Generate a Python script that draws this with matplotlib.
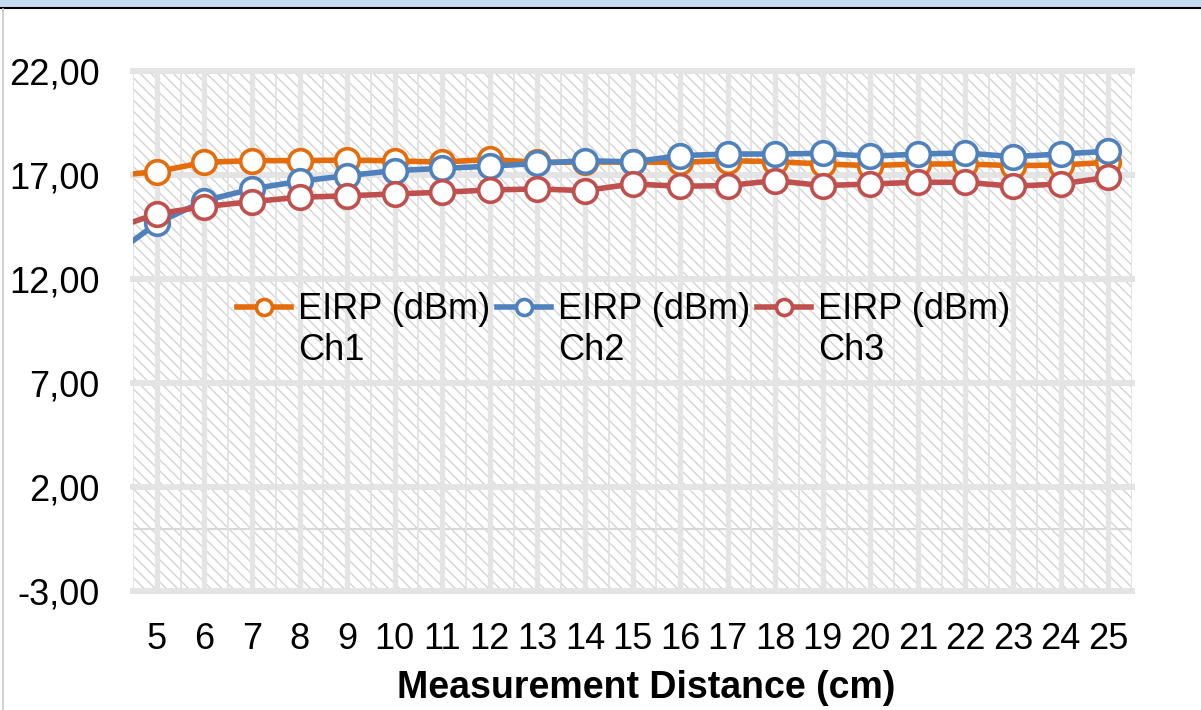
import numpy as np
import matplotlib
matplotlib.use("Agg")
import matplotlib.pyplot as plt
from matplotlib.legend_handler import HandlerLine2D
from matplotlib.patches import Rectangle
from matplotlib.lines import Line2D

# ---- data ----
distance = [4, 5, 6, 7, 8, 9, 10, 11, 12, 13, 14, 15, 16, 17, 18, 19, 20, 21, 22, 23, 24, 25]
ch1 = [16.95, 17.16, 17.61, 17.69, 17.69, 17.72, 17.68, 17.62, 17.75, 17.61, 17.62, 17.62,
       17.61, 17.69, 17.64, 17.53, 17.45, 17.53, 17.53, 17.45, 17.48, 17.61]
ch2 = [13.00, 14.68, 15.76, 16.33, 16.70, 16.97, 17.21, 17.32, 17.42, 17.56, 17.69, 17.63,
       17.93, 18.01, 18.01, 18.04, 17.90, 18.01, 18.06, 17.88, 18.01, 18.14]
ch3 = [14.36, 15.13, 15.48, 15.72, 15.93, 16.00, 16.09, 16.17, 16.28, 16.33, 16.25, 16.57,
       16.46, 16.49, 16.73, 16.49, 16.57, 16.65, 16.65, 16.46, 16.57, 16.89]
series_labels = ["EIRP (dBm)\nCh1", "EIRP (dBm)\nCh2", "EIRP (dBm)\nCh3"]
series_colors = ["#E46C0A", "#4F81BD", "#C0504D"]
x_ticks = [5, 6, 7, 8, 9, 10, 11, 12, 13, 14, 15, 16, 17, 18, 19, 20, 21, 22, 23, 24, 25]
x_tick_labels = ["5", "6", "7", "8", "9", "10", "11", "12", "13", "14", "15", "16", "17",
                 "18", "19", "20", "21", "22", "23", "24", "25"]
y_ticks = [-3, 2, 7, 12, 17, 22]
y_tick_labels = ["-3,00", "2,00", "7,00", "12,00", "17,00", "22,00"]
x_label = "Measurement Distance (cm)"

plt.rcParams['font.family'] = ['Liberation Sans', 'DejaVu Sans']
FS = 26

W, H = 1201, 710
fig = plt.figure(figsize=(W / 100, H / 100), dpi=100)
fig.patch.set_facecolor("white")

# window-like decorations
fig.add_artist(Rectangle((0, 1 - 7 / H), 1, 7 / H, transform=fig.transFigure,
                         facecolor="#C6D9F1", edgecolor="none"))
fig.add_artist(Line2D([0, 1], [1 - 8 / H, 1 - 8 / H], transform=fig.transFigure,
                      color="black", lw=1.5))
fig.add_artist(Line2D([2.5 / W, 2.5 / W], [0, 1 - 9 / H], transform=fig.transFigure,
                      color="#c8c8c8", lw=1.2))

ax = fig.add_axes([133 / W, 1 - 591 / H, 999 / W, 520 / H])
ax.set_xlim(4.5, 25.5)
ax.set_ylim(-3, 22)
ax.patch.set_visible(False)
for s in ax.spines.values():
    s.set_visible(False)

# hatched plot area
ax.add_patch(Rectangle((0, 0), 1, 1, transform=ax.transAxes, facecolor="white",
                       edgecolor="#d4d4d4", hatch="\\\\\\", linewidth=0, zorder=0))

# gridlines
for y in y_ticks:
    ax.axhline(y, color="#e4e4e4", lw=4.3, zorder=1, clip_on=False)
ax.axhline(0, color="#d8d8d8", lw=1.5, zorder=1)
for x in x_ticks:
    ax.axvline(x, color="#e4e4e4", lw=3.8, zorder=1)
for b in np.arange(4.5, 26, 1.0):
    ax.axvline(b, color="#e2e2e2", lw=1.3, zorder=1)

for i, (vals, lab, col) in enumerate(zip([ch1, ch2, ch3], series_labels, series_colors)):
    ax.plot(distance, vals, color=col, lw=4.0, marker="o", ms=17, mfc="white",
            mec=col, mew=2.6, label=lab, zorder=3 + i)

ax.set_xticks(x_ticks)
ax.set_xticklabels(x_tick_labels)
ax.set_yticks(y_ticks)
ax.set_yticklabels(y_tick_labels)
ax.tick_params(axis="both", length=0, labelsize=FS)
ax.tick_params(axis="y", pad=24)
ax.tick_params(axis="x", pad=22)
ax.set_xlabel(x_label, fontsize=27, fontweight="bold", labelpad=10)
ax.xaxis.label.set_x((646 - 133) / 999)


class UpHandler(HandlerLine2D):
    def create_artists(self, legend, orig_handle, xdescent, ydescent, width, height,
                       fontsize, trans):
        arts = super().create_artists(legend, orig_handle, xdescent, ydescent, width,
                                      height, fontsize, trans)
        for a in arts:
            a.set_ydata(np.asarray(a.get_ydata(), dtype=float) + fontsize * 0.65)
        return arts


handles, labels = ax.get_legend_handles_labels()
leg = ax.legend(handles, labels, ncol=3, loc="upper left",
                bbox_to_anchor=((237 - 133) / 999, (591 - 292) / 520),
                frameon=False, fontsize=FS, borderpad=0, borderaxespad=0,
                handlelength=1.5, handletextpad=0.18, columnspacing=0.2,
                markerscale=0.68,
                handler_map={Line2D: UpHandler(numpoints=1)})
for t in leg.get_texts():
    t.set_linespacing(1.22)

fig.savefig("out.png", dpi=100)
